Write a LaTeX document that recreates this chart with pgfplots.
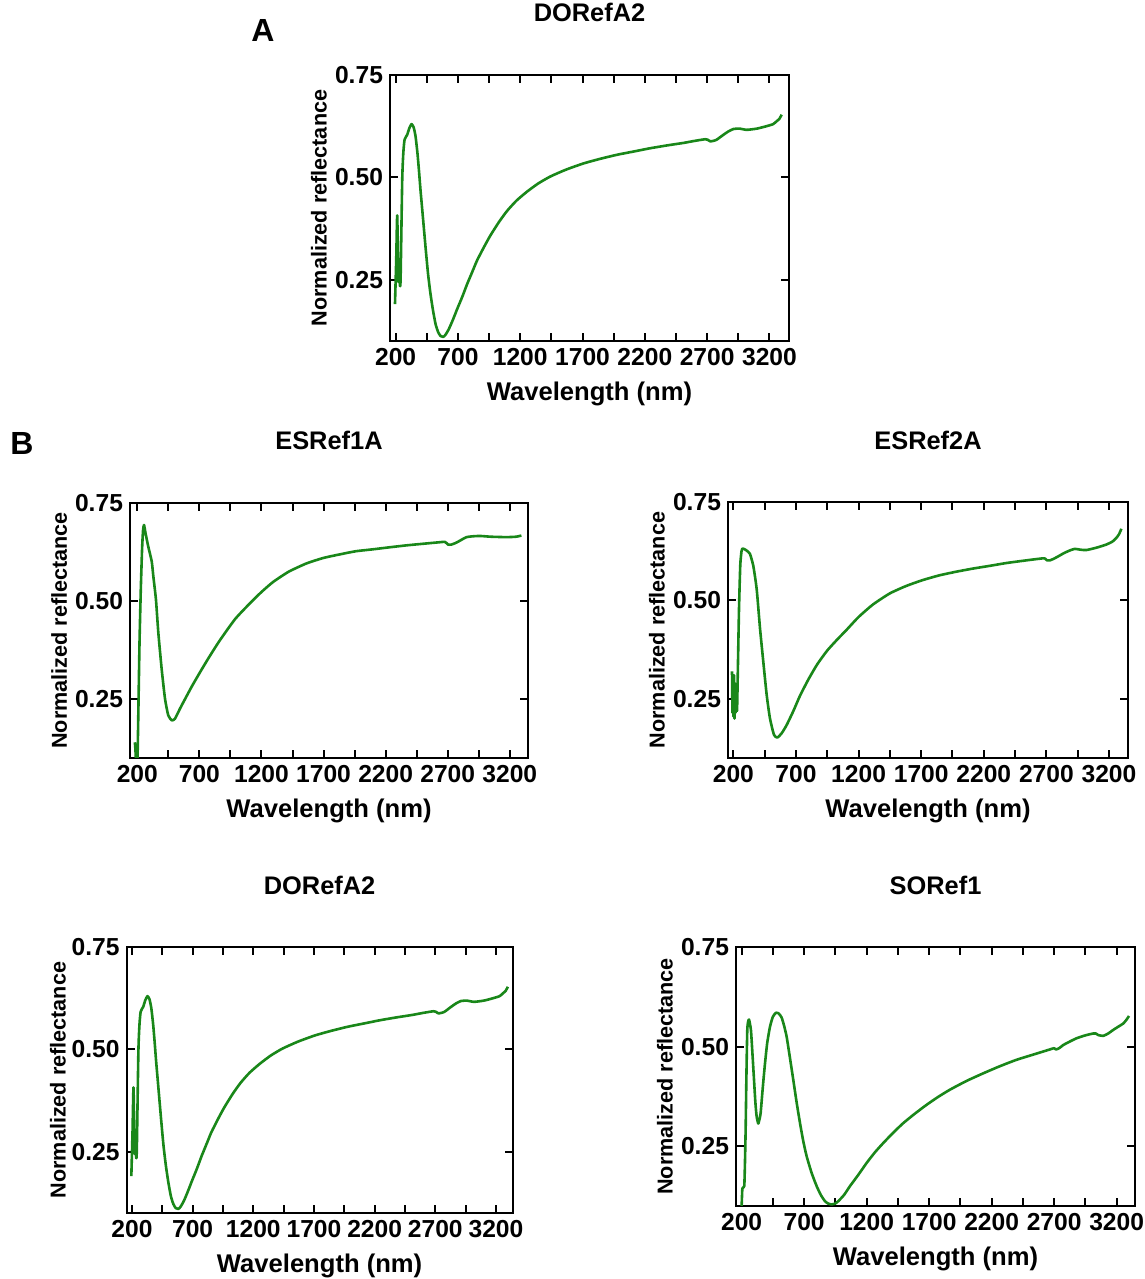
\documentclass[border=0pt]{standalone}
\usepackage{fontspec}
\setmainfont{Liberation Sans}
\usepackage{pgfplots}
\usepackage{pgfplotstable}
\pgfplotsset{compat=1.18}
\definecolor{specgreen}{RGB}{25,135,25}

% Normalized reflectance spectra (wavelength in nm)
\pgfplotstableread{
x y
195 0.190
205 0.300
213 0.407
222 0.245
228 0.300
234 0.238
240 0.252
253 0.493
262 0.560
272 0.592
293 0.604
310 0.620
328 0.630
345 0.622
360 0.600
375 0.560
387 0.518
400 0.468
414 0.420
440 0.330
460 0.265
480 0.215
500 0.175
521 0.141
541 0.122
561 0.112
582 0.110
600 0.115
627 0.129
660 0.152
694 0.178
735 0.208
774 0.239
814 0.268
854 0.297
910 0.330
961 0.358
1030 0.391
1095 0.418
1170 0.443
1255 0.465
1345 0.485
1442 0.502
1570 0.519
1709 0.534
1840 0.545
1976 0.555
2110 0.563
2243 0.571
2380 0.578
2510 0.584
2600 0.589
2684 0.593
2703 0.592
2724 0.588
2750 0.589
2777 0.592
2831 0.604
2870 0.612
2911 0.618
2960 0.619
3018 0.616
3100 0.619
3178 0.625
3230 0.630
3258 0.637
3280 0.643
3298 0.653
}\dataDORefA

\pgfplotstableread{
x y
180 0.140
184 0.125
188 0.100
193 0.060
198 0.060
203 0.120
210 0.250
218 0.400
228 0.530
238 0.630
246 0.680
254 0.694
265 0.675
288 0.639
316 0.601
329 0.563
350 0.504
369 0.420
396 0.327
423 0.251
449 0.209
477 0.196
503 0.200
544 0.226
584 0.250
640 0.283
704 0.318
780 0.358
865 0.400
990 0.455
1134 0.503
1210 0.526
1295 0.549
1420 0.575
1563 0.596
1700 0.610
1831 0.619
1960 0.627
2100 0.632
2230 0.637
2368 0.642
2500 0.646
2636 0.650
2676 0.651
2690 0.648
2703 0.644
2730 0.644
2770 0.649
2810 0.656
2851 0.663
2900 0.665
2958 0.666
3050 0.664
3173 0.663
3250 0.664
3294 0.667
}\dataESRefA

\pgfplotstableread{
x y
189 0.320
193 0.215
197 0.300
201 0.205
205 0.310
209 0.200
213 0.290
217 0.215
221 0.260
229 0.220
236 0.330
245 0.480
255 0.590
265 0.625
274 0.632
300 0.628
320 0.623
333 0.618
359 0.588
386 0.529
413 0.428
439 0.344
466 0.260
492 0.201
524 0.159
551 0.152
586 0.163
626 0.184
680 0.220
732 0.258
800 0.300
870 0.338
950 0.373
1030 0.401
1103 0.425
1200 0.458
1316 0.490
1450 0.518
1582 0.537
1715 0.552
1848 0.564
1980 0.573
2114 0.581
2250 0.588
2380 0.595
2520 0.601
2673 0.607
2690 0.606
2705 0.602
2730 0.602
2753 0.605
2795 0.612
2833 0.619
2880 0.626
2926 0.631
2970 0.629
3019 0.628
3100 0.634
3179 0.642
3230 0.650
3259 0.659
3280 0.668
3299 0.682
}\dataESRefB

\pgfplotstableread{
x y
200 0.100
205 0.140
208 0.146
221 0.150
226 0.200
232 0.290
238 0.420
245 0.540
252 0.563
259 0.568
266 0.558
275 0.540
287 0.480
299 0.417
310 0.360
320 0.325
333 0.307
343 0.318
352 0.333
370 0.400
387 0.458
405 0.510
427 0.550
450 0.575
475 0.585
497 0.583
520 0.573
540 0.552
560 0.525
585 0.475
613 0.417
640 0.360
667 0.308
693 0.263
720 0.225
760 0.183
800 0.150
833 0.128
867 0.112
893 0.106
920 0.104
947 0.106
973 0.112
1020 0.128
1067 0.150
1133 0.178
1200 0.208
1267 0.235
1333 0.258
1413 0.284
1493 0.308
1587 0.332
1680 0.354
1773 0.374
1867 0.392
2000 0.414
2133 0.433
2267 0.451
2400 0.467
2533 0.480
2667 0.493
2699 0.496
2715 0.493
2740 0.496
2773 0.504
2827 0.513
2880 0.521
2947 0.528
3013 0.533
3033 0.533
3053 0.529
3093 0.527
3133 0.533
3173 0.542
3213 0.550
3253 0.558
3280 0.568
3299 0.577
}\dataSORef

\pgfplotsset{
  spectrum/.style={
    scale only axis,
    anchor=south west,
    axis line style={line width=1pt},
    tick style={line width=1pt, black},
    tick align=inside,
    major tick length=4pt,
    minor tick length=4pt,
    xtick pos=both, ytick pos=both,
    xticklabel pos=lower, yticklabel pos=left,
    ymin=0.1, ymax=0.75,
    xtick={200,700,1200,1700,2200,2700,3200},
    xticklabels={200,700,1200,1700,2200,2700,3200},
    minor xtick={450,950,1450,1950,2450,2950},
    ytick={0.25,0.5,0.75},
    yticklabels={0.25,0.50,0.75},
    ticklabel style={font=\fontsize{12.3}{14}\selectfont\bfseries},
    xlabel={Wavelength (nm)},
    ylabel={Normalized reflectance},
    xlabel style={font=\fontsize{12.8}{15}\selectfont\bfseries,
      at={(axis description cs:0.5,0)}, anchor=base, yshift=-30pt},
    ylabel style={font=\fontsize{10.8}{13}\selectfont\bfseries,
      at={(axis description cs:-0.178,0.5)}, anchor=center},
    title style={font=\fontsize{12.7}{15}\selectfont\bfseries,
      at={(axis description cs:0.5,1)}, anchor=base, yshift=20.5pt},
  },
  curve/.style={specgreen, line width=1.3pt, mark=none, line join=round,
    smooth, tension=0.35},
}

\begin{document}
\begin{tikzpicture}
\useasboundingbox (0,0) rectangle (572.5pt,639.5pt);

% panel letters
\node[anchor=base, font=\fontsize{16}{19}\selectfont\bfseries] at (131.5pt,618.5pt) {A};
\node[anchor=base, font=\fontsize{16}{19}\selectfont\bfseries] at (11pt,412pt) {B};

% A: DORefA2
\begin{axis}[spectrum, at={(195pt,469pt)}, width=199.5pt, height=133pt,
  xmin=155, xmax=3357, title={DORefA2}]
\addplot[curve] table {\dataDORefA};
\end{axis}

% B: ESRef1A
\begin{axis}[spectrum, at={(65pt,260.5pt)}, width=199pt, height=127.5pt,
  xmin=141, xmax=3347, title={ESRef1A}]
\addplot[curve] table {\dataESRefA};
\end{axis}

% B: ESRef2A
\begin{axis}[spectrum, at={(364pt,260.5pt)}, width=200pt, height=128pt,
  xmin=157, xmax=3352, title={ESRef2A}]
\addplot[curve] table {\dataESRefB};
\end{axis}

% B: DORefA2
\begin{axis}[spectrum, at={(63.3pt,33pt)}, width=193pt, height=133pt,
  xmin=156, xmax=3337, title={DORefA2}]
\addplot[curve] table {\dataDORefA};
\end{axis}

% B: SORef1
\begin{axis}[spectrum, at={(368pt,36.5pt)}, width=199.5pt, height=129.5pt,
  xmin=155, xmax=3347, title={SORef1}]
\addplot[curve] table {\dataSORef};
\end{axis}
\end{tikzpicture}
\end{document}
